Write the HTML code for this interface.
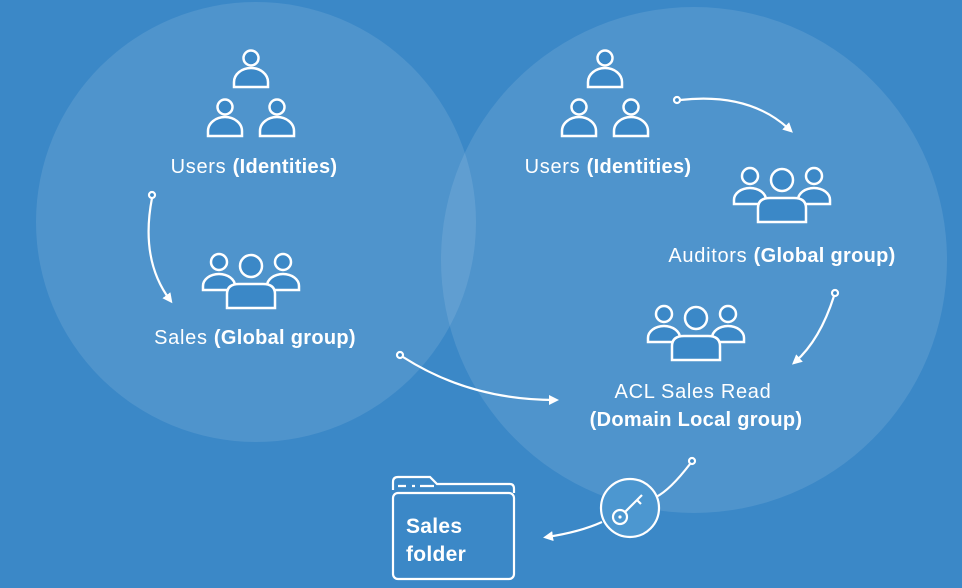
<!DOCTYPE html>
<html><head><meta charset="utf-8"><style>
html,body{margin:0;padding:0;background:#3b88c7;}
svg{display:block}
text{font-family:"Liberation Sans",sans-serif;font-size:20px;fill:#fff;letter-spacing:0.7px}
.b{font-weight:bold;letter-spacing:0.3px}
</style></head><body>
<svg width="962" height="588" viewBox="0 0 962 588">
<defs>
<g id="p">
<circle cx="0" cy="0" r="7.5" fill="#3b88c7" stroke="#fff" stroke-width="2.5"/>
<path d="M-17,29 V24 A17,14 0 0 1 17,24 V29 Z" fill="#3b88c7" stroke="#fff" stroke-width="2.5"/>
</g>
<g id="u">
<use href="#p" x="0" y="0"/><use href="#p" x="-26" y="49"/><use href="#p" x="26" y="49"/>
</g>
<g id="g">
<circle cx="-32" cy="-4" r="8" fill="#3b88c7" stroke="#fff" stroke-width="2.5"/>
<circle cx="32" cy="-4" r="8" fill="#3b88c7" stroke="#fff" stroke-width="2.5"/>
<path d="M-48,24 V20 A16,12 0 0 1 -16,20 V24 Z" fill="#3b88c7" stroke="#fff" stroke-width="2.5"/>
<path d="M48,24 V20 A16,12 0 0 0 16,20 V24 Z" fill="#3b88c7" stroke="#fff" stroke-width="2.5"/>
<circle cx="0" cy="0" r="11" fill="#3b88c7" stroke="#fff" stroke-width="2.5"/>
<path d="M-24,42 V28 Q-24,18 -12,18 H12 Q24,18 24,28 V42 Z" fill="#3b88c7" stroke="#fff" stroke-width="2.5"/>
</g>
<marker id="a" markerWidth="10" markerHeight="10" refX="6" refY="5" orient="auto" markerUnits="userSpaceOnUse"><path d="M0,0 L10,5 L0,10 Z" fill="#fff"/></marker>
</defs>
<circle cx="256" cy="222" r="220" fill="#fff" fill-opacity="0.1"/>
<circle cx="694" cy="260" r="253" fill="#fff" fill-opacity="0.1"/>

<use href="#u" x="251" y="58"/>
<text x="254" y="173" text-anchor="middle">Users <tspan class="b">(Identities)</tspan></text>
<use href="#g" x="251" y="266"/>
<text x="255" y="344" text-anchor="middle">Sales <tspan class="b">(Global group)</tspan></text>

<use href="#u" x="605" y="58"/>
<text x="608" y="173" text-anchor="middle">Users <tspan class="b">(Identities)</tspan></text>
<use href="#g" x="782" y="180"/>
<text x="782" y="262" text-anchor="middle">Auditors <tspan class="b">(Global group)</tspan></text>
<use href="#g" x="696" y="318"/>
<text x="693" y="398" text-anchor="middle">ACL Sales Read</text>
<text x="696" y="426" text-anchor="middle" class="b">(Domain Local group)</text>

<g fill="none" stroke="#fff" stroke-width="2.2">
<circle cx="152" cy="195" r="3" fill="#3b88c7"/>
<path d="M152,198 Q140,260 170,300" marker-end="url(#a)"/>
<circle cx="677" cy="100" r="3" fill="#3b88c7"/>
<path d="M680,100 Q750,92 790,130" marker-end="url(#a)"/>
<circle cx="835" cy="293" r="3" fill="#3b88c7"/>
<path d="M834,296 Q820,340 795,362" marker-end="url(#a)"/>
<circle cx="400" cy="355" r="3" fill="#3b88c7"/>
<path d="M403,357 Q470,400 555,400" marker-end="url(#a)"/>
<circle cx="692" cy="461" r="3" fill="#3b88c7"/>
<path d="M690,464 Q670,490 656,497"/>
<path d="M602,522 Q580,532 547,537" marker-end="url(#a)"/>
<circle cx="630" cy="508" r="29" fill="#4c97d0"/>
<circle cx="620" cy="517" r="7"/>
<path d="M625,512 L642,495 M637,500 l4,4"/>
<path d="M393,490 V482 Q393,477 398,477 H430 L437,484 H510 Q514,484 514,489 V493" />
<rect x="393" y="493" width="121" height="86" rx="5"/>
<path d="M398,486 h8 M412,486 h3 M420,486 h14"/>
</g>
<circle cx="620" cy="517" r="1.6" fill="#fff"/>
<text x="406" y="533" class="b" style="font-size:21px">Sales</text>
<text x="406" y="561" class="b" style="font-size:21px">folder</text>
</svg>
</body></html>
